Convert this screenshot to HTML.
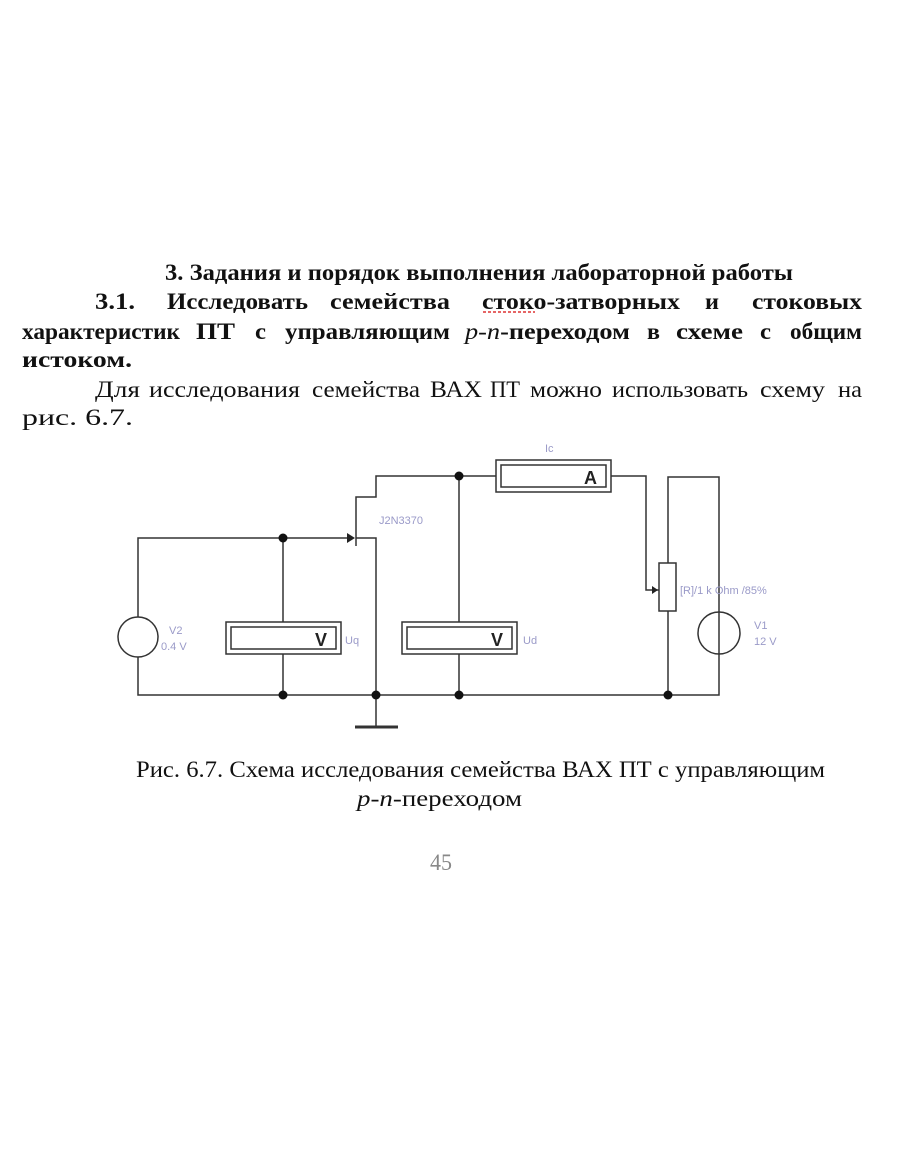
<!DOCTYPE html>
<html><head><meta charset="utf-8"><style>
html,body{margin:0;padding:0;background:#fff;}
svg{display:block;}
.t{font-family:"Liberation Serif",serif;font-size:23px;fill:#111;}
.b{font-weight:bold;}
.lab{font-family:"Liberation Sans",sans-serif;font-size:11px;fill:#9a9ac8;}
</style></head><body>
<svg width="910" height="1155" viewBox="0 0 910 1155" xmlns="http://www.w3.org/2000/svg">
<g class="t b">
<text x="165" y="280" textLength="628" lengthAdjust="spacingAndGlyphs">3. Задания и порядок выполнения лабораторной работы</text>
<text x="95" y="309" textLength="40" lengthAdjust="spacingAndGlyphs">3.1.</text>
<text x="167" y="309" textLength="141" lengthAdjust="spacingAndGlyphs">Исследовать</text>
<text x="330" y="309" textLength="120" lengthAdjust="spacingAndGlyphs">семейства</text>
<text x="482" y="309" textLength="198" lengthAdjust="spacingAndGlyphs">стоко-затворных</text>
<text x="705" y="309" textLength="14" lengthAdjust="spacingAndGlyphs">и</text>
<text x="752" y="309" textLength="110" lengthAdjust="spacingAndGlyphs">стоковых</text>
<text x="22" y="339" textLength="158" lengthAdjust="spacingAndGlyphs">характеристик</text>
<text x="196" y="339" textLength="39" lengthAdjust="spacingAndGlyphs">ПТ</text>
<text x="255" y="339" textLength="11" lengthAdjust="spacingAndGlyphs">с</text>
<text x="285" y="339" textLength="165" lengthAdjust="spacingAndGlyphs">управляющим</text>
<text x="465" y="339" textLength="165" lengthAdjust="spacingAndGlyphs"><tspan font-style="italic" font-weight="normal">p-n</tspan>-переходом</text>
<text x="647" y="339" textLength="13" lengthAdjust="spacingAndGlyphs">в</text>
<text x="676" y="339" textLength="67" lengthAdjust="spacingAndGlyphs">схеме</text>
<text x="760" y="339" textLength="11" lengthAdjust="spacingAndGlyphs">с</text>
<text x="790" y="339" textLength="72" lengthAdjust="spacingAndGlyphs">общим</text>
<text x="22" y="367" textLength="110" lengthAdjust="spacingAndGlyphs">истоком.</text>
</g>
<line x1="483" y1="312" x2="535" y2="312" stroke="#d33" stroke-width="1.5" stroke-dasharray="3,2"/>
<g class="t">
<text x="95" y="397" textLength="45" lengthAdjust="spacingAndGlyphs">Для</text>
<text x="149" y="397" textLength="151" lengthAdjust="spacingAndGlyphs">исследования</text>
<text x="312" y="397" textLength="108" lengthAdjust="spacingAndGlyphs">семейства</text>
<text x="430" y="397" textLength="52" lengthAdjust="spacingAndGlyphs">ВАХ</text>
<text x="490" y="397" textLength="30" lengthAdjust="spacingAndGlyphs">ПТ</text>
<text x="530" y="397" textLength="72" lengthAdjust="spacingAndGlyphs">можно</text>
<text x="612" y="397" textLength="136" lengthAdjust="spacingAndGlyphs">использовать</text>
<text x="760" y="397" textLength="65" lengthAdjust="spacingAndGlyphs">схему</text>
<text x="838" y="397" textLength="24" lengthAdjust="spacingAndGlyphs">на</text>
<text x="22" y="425" textLength="111" lengthAdjust="spacingAndGlyphs">рис. 6.7.</text>
<text x="136" y="777" textLength="689" lengthAdjust="spacingAndGlyphs">Рис. 6.7. Схема исследования семейства ВАХ ПТ с управляющим</text>
<text x="357" y="806" textLength="165" lengthAdjust="spacingAndGlyphs"><tspan font-style="italic">p-n</tspan>-переходом</text>
<text x="430" y="870" textLength="22" lengthAdjust="spacingAndGlyphs" style="fill:#888">45</text>
</g>
<g stroke="#333" stroke-width="1.5" fill="none">
<polyline points="138,617 138,538 347,538"/>
<polyline points="138,657 138,695 719,695 719,477 668,477 668,563"/>
<line x1="668" y1="611" x2="668" y2="695"/>
<line x1="283" y1="538" x2="283" y2="622"/>
<line x1="283" y1="654" x2="283" y2="695"/>
<line x1="356" y1="530" x2="356" y2="546"/>
<polyline points="356,538 376,538 376,727"/>
<polyline points="356,530 356,497 376,497 376,476 496,476"/>
<line x1="355" y1="727" x2="398" y2="727" stroke-width="3"/>
<line x1="459" y1="476" x2="459" y2="622"/>
<line x1="459" y1="654" x2="459" y2="695"/>
<polyline points="611,476 646,476 646,590 659,590"/>
<rect x="226" y="622" width="115" height="32"/>
<rect x="231" y="627" width="105" height="22"/>
<rect x="402" y="622" width="115" height="32"/>
<rect x="407" y="627" width="105" height="22"/>
<rect x="496" y="460" width="115" height="32"/>
<rect x="501" y="465" width="105" height="22"/>
<rect x="659" y="563" width="17" height="48" fill="#fff"/>
<circle cx="138" cy="637" r="20"/>
<circle cx="719" cy="633" r="21"/>
</g>
<polygon points="347,533 355,538 347,543" fill="#222"/>
<polygon points="652,586 658,590 652,594" fill="#222"/>
<g fill="#111">
<circle cx="283" cy="538" r="4.5"/><circle cx="283" cy="695" r="4.5"/>
<circle cx="376" cy="695" r="4.5"/><circle cx="459" cy="695" r="4.5"/>
<circle cx="459" cy="476" r="4.5"/><circle cx="668" cy="695" r="4.5"/>
</g>
<g font-family="Liberation Sans,sans-serif" font-size="18" font-weight="bold" fill="#222">
<text x="315" y="646">V</text><text x="491" y="646">V</text><text x="584" y="484">A</text>
</g>
<g class="lab">
<text x="379" y="524">J2N3370</text>
<text x="345" y="644">Uq</text>
<text x="523" y="644">Ud</text>
<text x="545" y="452">Ic</text>
<text x="680" y="594">[R]/1 k Ohm /85%</text>
<text x="169" y="634">V2</text><text x="161" y="650">0.4 V</text>
<text x="754" y="629">V1</text><text x="754" y="645">12 V</text>
</g>
</svg>
</body></html>
